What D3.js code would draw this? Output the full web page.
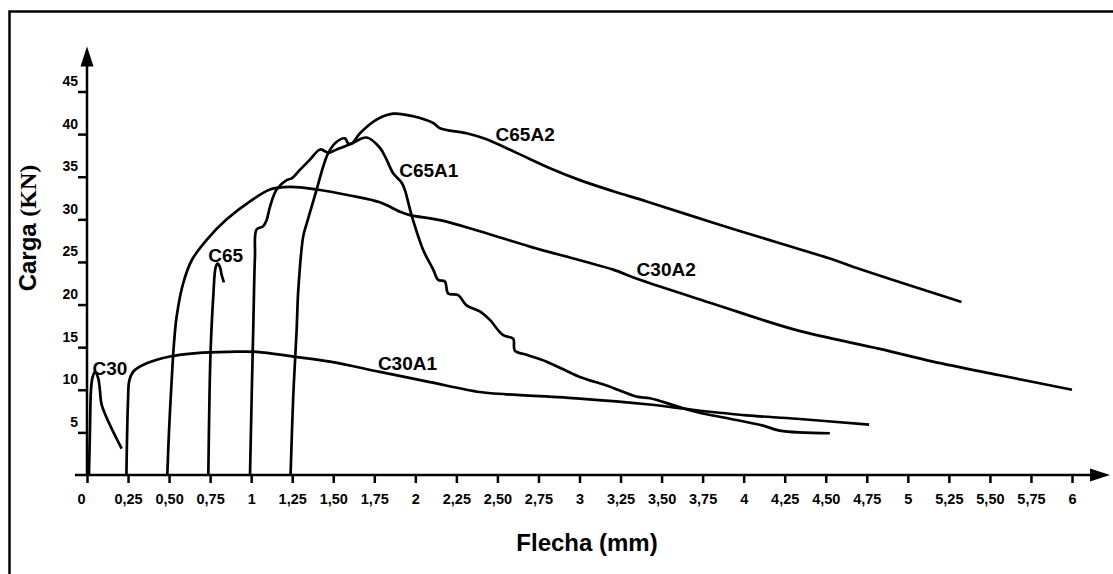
<!DOCTYPE html>
<html>
<head>
<meta charset="utf-8">
<script src="https://d3js.org/d3.v7.min.js"></script>
<style>
  body { margin: 0; background: #fff; }
  svg { display: block; font-family: "Liberation Sans", Arial, sans-serif; font-weight: bold; }
</style>
</head>
<body>
<svg width="1113" height="574"></svg>
<script>
// tick values and labels (decimal comma as in the original)
var xTicks = d3.range(0, 6.001, 0.25);
var xTickLabels = ["0", "0,25", "0,50", "0,75", "1", "1,25", "1,50", "1,75", "2", "2,25", "2,50", "2,75",
                   "3", "3,25", "3,50", "3,75", "4", "4,25", "4,50", "4,75", "5", "5,25", "5,50", "5,75", "6"];
var yTicks = [5, 10, 15, 20, 25, 30, 35, 40, 45];

// curves: [flecha (mm), carga (kN)]
var c30 = [[0.012, 0], [0.018, 5.2], [0.024, 9.9], [0.033, 11.4], [0.049, 12.1], [0.069, 11.3],
           [0.079, 9.9], [0.09, 8.2], [0.211, 3.1]];

var c30A1 = [[0.24, 0], [0.25, 8.8], [0.258, 11.1], [0.285, 12.2], [0.364, 13.1], [0.505, 13.9],
             [0.668, 14.3], [0.871, 14.45], [1.034, 14.45], [1.256, 13.9], [1.48, 13.3], [1.784, 12.1],
             [2.089, 10.9], [2.393, 9.74], [2.556, 9.47], [3.002, 8.96], [3.409, 8.3], [3.713, 7.6],
             [4.018, 7.0], [4.322, 6.6], [4.764, 5.9]];

var c30A2 = [[0.489, 0], [0.5, 5.3], [0.516, 11.2], [0.53, 15.5], [0.546, 18.6], [0.586, 22.5],
             [0.638, 25.2], [0.729, 27.6], [0.851, 30], [0.993, 32.1], [1.115, 33.5], [1.236, 33.8],
             [1.399, 33.5], [1.601, 32.8], [1.784, 32.0], [1.906, 30.9], [1.967, 30.5], [2.15, 29.9],
             [2.393, 28.6], [2.698, 26.8], [3.002, 25.2], [3.205, 24.1], [3.368, 22.9], [3.814, 20.1],
             [4.322, 17.0], [4.829, 14.8], [5.154, 13.3], [5.56, 11.7], [6.0, 10.0]];

var c65 = [[0.739, 0], [0.746, 9.1], [0.753, 14.6], [0.769, 20.9], [0.784, 24.4], [0.796, 24.8],
           [0.81, 24.4], [0.82, 23.5], [0.834, 22.6]];

var c65A1 = [[0.993, 0], [1.003, 9.1], [1.013, 17.5], [1.023, 25.6], [1.033, 28.8], [1.074, 29.2],
             [1.094, 29.9], [1.115, 31.5], [1.155, 33.5], [1.216, 34.6], [1.247, 34.8], [1.297, 35.8],
             [1.358, 37.0], [1.419, 38.2], [1.449, 38.0], [1.47, 37.8], [1.521, 38.2], [1.602, 38.8],
             [1.703, 39.6], [1.784, 38.4], [1.825, 37.0], [1.865, 35.4], [1.917, 34.3], [1.937, 33.4],
             [1.977, 30.5], [2.048, 26.4], [2.109, 24.1], [2.139, 22.9], [2.18, 22.7], [2.2, 21.3],
             [2.261, 21.1], [2.312, 19.9], [2.393, 19.2], [2.454, 18.2], [2.535, 16.4], [2.596, 16.0],
             [2.606, 14.6], [2.678, 14.1], [2.8, 13.3], [3.002, 11.5], [3.165, 10.5], [3.348, 9.2],
             [3.429, 9.0], [3.571, 8.2], [3.713, 7.4], [3.916, 6.6], [4.119, 5.8], [4.22, 5.2], [4.525, 4.9]];

var c65A2 = [[1.24, 0], [1.256, 9.1], [1.277, 17], [1.287, 21.7], [1.317, 28.0], [1.338, 29.5],
             [1.399, 33.5], [1.439, 36.2], [1.47, 37.8], [1.521, 39.1], [1.571, 39.5], [1.591, 38.9],
             [1.612, 38.9], [1.663, 40.1], [1.764, 41.7], [1.865, 42.4], [1.987, 42.1], [2.109, 41.3],
             [2.15, 40.7], [2.312, 40.1], [2.434, 39.4], [2.617, 37.8], [2.82, 36.0], [3.002, 34.6],
             [3.205, 33.3], [3.409, 32.1], [3.814, 29.6], [4.22, 27.2], [4.525, 25.4], [4.748, 23.9],
             [5.327, 20.3]];

var curves = [c30, c30A1, c30A2, c65, c65A1, c65A2];

// curve names and where they sit (data units)
var labelNames = ["C30", "C65", "C65A1", "C65A2", "C30A2", "C30A1"];
var labelX     = [0.14, 0.845, 2.082, 2.669, 3.528, 1.952];
var labelY     = [12.5, 25.8, 35.8, 40.0, 24.15, 13.1];

var svg = d3.select("svg");

var x = d3.scaleLinear().domain([0, 6]).range([87, 1072]),
    y = d3.scaleLinear().domain([0, 45]).range([475, 91.5]);

// outer frame (cut off at right and bottom)
svg.append("rect")
   .attr("x", 9.5)
   .attr("y", 11.5)
   .attr("width", 1200)
   .attr("height", 700)
   .attr("fill", "none")
   .attr("stroke", "#000")
   .attr("stroke-width", 2.5);

// x axis
var xAxis = d3.axisBottom(x)
              .tickValues(xTicks)
              .tickSize(8)
              .tickPadding(11)
              .tickFormat(function(d, i) { return xTickLabels[i]; });

var gx = svg.append("g")
            .attr("transform", "translate(0," + y(0) + ")")
            .call(xAxis);
gx.select(".domain").remove();
gx.selectAll(".tick line").attr("stroke", "#000").attr("stroke-width", 2.5);
gx.selectAll(".tick text")
  .attr("fill", "#000")
  .attr("font-size", "14.5px")
  .attr("font-weight", "bold")
  .attr("font-family", "Liberation Sans, Arial, sans-serif");
gx.select(".tick text").attr("x", -6);

// y axis
var yAxis = d3.axisLeft(y)
              .tickValues(yTicks)
              .tickSize(9)
              .tickPadding(0);

var gy = svg.append("g")
            .attr("transform", "translate(" + x(0) + ",0)")
            .call(yAxis);
gy.select(".domain").remove();
gy.selectAll(".tick line").attr("stroke", "#000").attr("stroke-width", 2.5);
gy.selectAll(".tick text")
  .attr("fill", "#000")
  .attr("dy", "-6px")
  .attr("font-size", "14px")
  .attr("font-weight", "bold")
  .attr("font-family", "Liberation Sans, Arial, sans-serif");

// axis lines with arrow heads
var xEnd = x(6) + 38, yTop = y(45) - 45;
svg.append("line")
   .attr("x1", x(0) - 12).attr("x2", xEnd - 16)
   .attr("y1", y(0)).attr("y2", y(0))
   .attr("stroke", "#000").attr("stroke-width", 2.5);
svg.append("path")
   .attr("d", "M" + xEnd + "," + y(0) + "L" + (xEnd - 20) + "," + (y(0) - 6.5) + "L" + (xEnd - 20) + "," + (y(0) + 6.5) + "Z")
   .attr("fill", "#000");

svg.append("line")
   .attr("x1", x(0)).attr("x2", x(0))
   .attr("y1", y(0)).attr("y2", yTop + 16)
   .attr("stroke", "#000").attr("stroke-width", 2.5);
svg.append("path")
   .attr("d", "M" + x(0) + "," + yTop + "L" + (x(0) - 6.5) + "," + (yTop + 20) + "L" + (x(0) + 6.5) + "," + (yTop + 20) + "Z")
   .attr("fill", "#000");

// curves
var line = d3.line()
             .x(function(d) { return x(d[0]); })
             .y(function(d) { return y(d[1]); })
             .curve(d3.curveCatmullRom.alpha(0.5));

svg.selectAll(".curve")
   .data(curves)
   .enter().append("path")
   .attr("class", "curve")
   .attr("d", line)
   .attr("fill", "none")
   .attr("stroke", "#000")
   .attr("stroke-width", 2.7)
   .attr("stroke-linejoin", "round")
   .attr("stroke-linecap", "butt");

// curve labels
svg.selectAll(".lbl")
   .data(labelNames)
   .enter().append("text")
   .attr("class", "lbl")
   .attr("x", function(d, i) { return x(labelX[i]); })
   .attr("y", function(d, i) { return y(labelY[i]); })
   .attr("dy", "0.36em")
   .attr("text-anchor", "middle")
   .attr("font-size", "19px")
   .text(function(d) { return d; });

// axis titles
svg.append("text")
   .attr("x", 587)
   .attr("y", 551)
   .attr("text-anchor", "middle")
   .attr("font-size", "24px")
   .text("Flecha (mm)");

var yt = svg.append("text")
            .attr("transform", "translate(35.5,228) rotate(-90)")
            .attr("text-anchor", "middle")
            .attr("font-size", "24px");
yt.append("tspan").text("Carga ");
yt.append("tspan").attr("font-family", "Liberation Serif, Times New Roman, serif").text("(KN)");
</script>
</body>
</html>
